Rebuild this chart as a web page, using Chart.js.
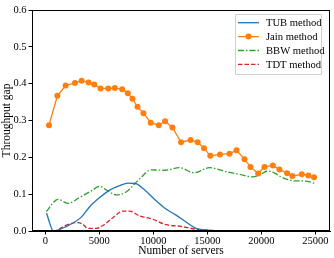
<!DOCTYPE html>
<html>
<head>
<meta charset="utf-8">
<script src="https://cdn.jsdelivr.net/npm/chart.js@4"></script>
<style>
  html, body { margin: 0; padding: 0; background: #fff; }
  #wrap { width: 334px; height: 258px; }
</style>
</head>
<body>
<div id="wrap"><canvas id="grafico" width="334" height="258"></canvas></div>
<script>
// values
const tubX = [100, 750, 1900, 3300, 4100, 5000, 5950, 6870, 7650, 8350, 9100, 10150, 11100, 12100, 13000, 13950, 15000, 16100, 25000];
const tubY = [0.049, 0.0, 0.012, 0.037, 0.066, 0.090, 0.111, 0.123, 0.130, 0.129, 0.114, 0.085, 0.061, 0.043, 0.025, 0.007, 0.002, 0.0, 0.0];

const jainX = [333, 1108, 1876, 2737, 3354, 4001, 4528, 5110, 5821, 6431, 7115, 7632, 8067, 8529, 9083, 9758, 10497, 11088, 11763, 12566, 13453, 14100, 14691, 15274, 16170, 17057, 17704, 18443, 18997, 19709, 20291, 21067, 21677, 22388, 22878, 23747, 24357, 24883];
const jainY = [0.287, 0.367, 0.395, 0.402, 0.408, 0.403, 0.398, 0.387, 0.387, 0.388, 0.385, 0.374, 0.359, 0.337, 0.320, 0.294, 0.287, 0.298, 0.281, 0.241, 0.247, 0.241, 0.225, 0.204, 0.208, 0.210, 0.219, 0.195, 0.174, 0.156, 0.174, 0.178, 0.167, 0.157, 0.149, 0.154, 0.151, 0.146];

const bbwX = [100, 1160, 2090, 3170, 4250, 5020, 5780, 6560, 7480, 8710, 9800, 11100, 12400, 13800, 15180, 16720, 17950, 19190, 19800, 20570, 21190, 21950, 23190, 23960, 24900];
const bbwY = [0.053, 0.086, 0.075, 0.091, 0.109, 0.121, 0.109, 0.098, 0.106, 0.141, 0.166, 0.165, 0.172, 0.158, 0.172, 0.161, 0.154, 0.147, 0.151, 0.163, 0.158, 0.145, 0.136, 0.136, 0.130];

const tdtX = [100, 750, 1940, 3010, 3470, 3940, 4710, 5320, 6250, 7170, 7790, 8710, 9940, 11180, 12410, 13950, 15180, 16380, 25000];
const tdtY = [0, 0, 0.016, 0.023, 0.018, 0.007, 0.007, 0.015, 0.036, 0.054, 0.054, 0.041, 0.032, 0.017, 0.013, 0.005, 0.002, 0, 0];

const xTicks = [0, 5000, 10000, 15000, 20000, 25000];
const yTicks = [0.0, 0.1, 0.2, 0.3, 0.4, 0.5, 0.6];
const seriesNames = ['TUB method', 'Jain method', 'BBW method', 'TDT method'];

const fonte = 'Liberation Serif, Times New Roman, serif';

function pts(xs, ys) {
  return xs.map((x, i) => ({ x: x, y: ys[i] }));
}

// frame + matplotlib-like legend
const molduraLegenda = {
  id: 'molduraLegenda',
  afterDraw(chart) {
    const ctx = chart.ctx;
    const a = chart.chartArea;
    ctx.save();
    ctx.setLineDash([]);
    ctx.strokeStyle = '#000';
    ctx.lineWidth = 1;
    ctx.strokeRect(Math.round(a.left) + 0.5, Math.round(a.top) + 0.5,
      Math.round(a.right - a.left) - 1, Math.round(a.bottom - a.top) - 1);

    const bx = 235, by = 14, bw = 86, bh = 60;
    ctx.fillStyle = 'rgba(255,255,255,0.8)';
    ctx.strokeStyle = '#d0d0d0';
    ctx.beginPath();
    ctx.rect(bx + 0.5, by + 0.5, bw, bh);
    ctx.fill();
    ctx.stroke();

    ctx.font = '10.6px ' + fonte;
    ctx.textBaseline = 'middle';
    ctx.textAlign = 'left';
    chart.data.datasets.forEach((ds, i) => {
      const y = 22.7 + i * 13.9;
      ctx.strokeStyle = ds.borderColor;
      ctx.lineWidth = ds.borderWidth;
      ctx.setLineDash(ds.borderDash || []);
      ctx.beginPath();
      ctx.moveTo(238, y);
      ctx.lineTo(259, y);
      ctx.stroke();
      ctx.setLineDash([]);
      if (ds.pointRadius > 0) {
        ctx.fillStyle = ds.borderColor;
        ctx.beginPath();
        ctx.arc(248.5, y, 3, 0, Math.PI * 2);
        ctx.fill();
      }
      ctx.fillStyle = '#000';
      ctx.fillText(seriesNames[i], 266, y + 0.5);
    });
    ctx.restore();
  }
};

const ctx = document.getElementById('grafico').getContext('2d');
const grafico = new Chart(ctx, {
  type: 'line',
  data: {
    datasets: [
      {
        label: seriesNames[0],
        data: pts(tubX, tubY),
        borderColor: '#1f77b4',
        borderWidth: 1.3,
        pointRadius: 0,
        cubicInterpolationMode: 'monotone',
      },
      {
        label: seriesNames[1],
        data: pts(jainX, jainY),
        borderColor: '#ff7f0e',
        backgroundColor: '#ff7f0e',
        borderWidth: 1.3,
        pointRadius: 3,
        pointBorderWidth: 0,
        pointBackgroundColor: '#ff7f0e',
        tension: 0,
      },
      {
        label: seriesNames[2],
        data: pts(bbwX, bbwY),
        borderColor: '#2ca02c',
        borderWidth: 1.3,
        borderDash: [6, 2, 1.5, 2],
        pointRadius: 0,
        cubicInterpolationMode: 'monotone',
      },
      {
        label: seriesNames[3],
        data: pts(tdtX, tdtY),
        borderColor: '#d62728',
        borderWidth: 1.3,
        borderDash: [4.5, 2],
        pointRadius: 0,
        cubicInterpolationMode: 'monotone',
      },
    ],
  },
  options: {
    responsive: false,
    animation: false,
    layout: { padding: { top: 10, right: 3, left: 0, bottom: 0 } },
    plugins: {
      legend: { display: false },
      tooltip: { enabled: false },
    },
    scales: {
      x: {
        type: 'linear',
        min: -1240,
        max: 26360,
        afterFit: (s) => { s.height = 27; },
        afterBuildTicks: (s) => { s.ticks = xTicks.map(v => ({ value: v })); },
        ticks: {
          color: '#000',
          font: { family: fonte, size: 10.5 },
          padding: 0,
          maxRotation: 0,
          autoSkip: false,
          callback: (v) => String(v),
        },
        grid: { drawOnChartArea: false, drawTicks: true, tickLength: 3.5, color: '#000' },
        border: { display: true, color: '#000', width: 1 },
        title: {
          display: true,
          text: 'Number of servers',
          color: '#000',
          font: { family: fonte, size: 11.5 },
          padding: 0,
        },
      },
      y: {
        min: 0,
        max: 0.6,
        afterFit: (s) => { s.width = 32; },
        afterBuildTicks: (s) => { s.ticks = yTicks.map(v => ({ value: v })); },
        ticks: {
          color: '#000',
          font: { family: fonte, size: 10.5 },
          padding: 2,
          autoSkip: false,
          callback: (v) => v.toFixed(1),
        },
        grid: { drawOnChartArea: false, drawTicks: true, tickLength: 3.5, color: '#000' },
        border: { display: true, color: '#000', width: 1 },
        title: {
          display: true,
          text: 'Throughput gap',
          color: '#000',
          font: { family: fonte, size: 11.5 },
          padding: 0,
        },
      },
    },
  },
  plugins: [molduraLegenda],
});
</script>
</body>
</html>
